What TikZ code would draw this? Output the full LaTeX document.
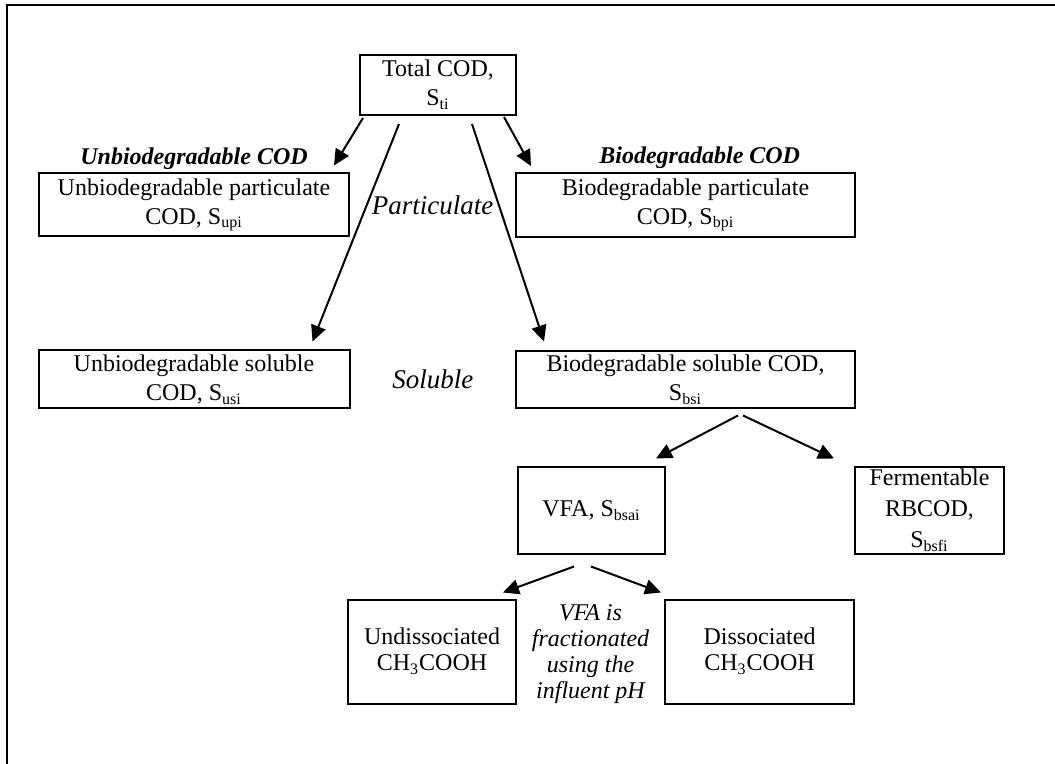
\documentclass[tikz,border=0pt,12pt]{standalone}
\usepackage{fontspec}
\setmainfont{Liberation Serif}
\usepackage{tikz}
\usetikzlibrary{arrows.meta,positioning,calc}

\begin{document}
\begin{tikzpicture}[
    >={Triangle[length=8pt,width=7.5pt]},
    node distance=60pt,
    font=\fontsize{12}{14.5}\selectfont,
    frac/.style={
		rectangle,
		draw=black,
		line width=1pt,
		align=center,
		inner sep=0pt
	},
	group/.style={
		font=\fontsize{12}{14.5}\selectfont\bfseries\itshape,
		inner sep=0pt
	},
	phase/.style={
		font=\fontsize{13.5}{15}\selectfont\itshape,
		align=center,
		inner sep=0pt
	},
	link/.style={
		->,
		line width=1pt
	}
  ]

\useasboundingbox (0,0) rectangle (527.5pt,-382pt);

% outer frame
\draw [line width=1pt] (3.5pt,-382pt) -- (3.5pt,-2.5pt) -- (527.5pt,-2.5pt);

% // total
\node [frac, minimum width=78pt, minimum height=30pt] (total) at (219pt,-42.5pt)
 {Total COD,\\ S\textsubscript{ti}};

% // particulate
\node [frac, below of=total, xshift=-122pt,
minimum width=155pt, minimum height=31.5pt] (upart)
 {Unbiodegradable particulate\\ COD, S\textsubscript{upi}};
\node [frac, below of=total, xshift=123.75pt,
minimum width=169.5pt, minimum height=32pt] (bpart)
 {Biodegradable particulate\\ COD, S\textsubscript{bpi}};

\node [group, anchor=base west] (ucod) at ([xshift=21pt,yshift=4pt]upart.north west) {Unbiodegradable COD};
\node [group, anchor=base west] (bcod) at ([xshift=42pt,yshift=4pt]bpart.north west) {Biodegradable COD};

% // soluble
\node [frac, below of=upart, yshift=-27.25pt,
minimum width=155.5pt, minimum height=29pt] (usol)
 {Unbiodegradable soluble\\ COD, S\textsubscript{usi}};
\node [frac, below of=bpart, yshift=-27.5pt,
minimum width=169.5pt, minimum height=28.5pt] (bsol)
 {Biodegradable soluble COD,\\ S\textsubscript{bsi}};

\node [phase] (part) at ($(upart.east)!0.5!(bpart.west)$) {Particulate};
\node [phase] (sol) at ($(usol.east)!0.5!(bsol.west)$) {Soluble};

% // readily biodegradable
\node [frac, below of=bsol, xshift=-47pt, yshift=-5.25pt,
minimum width=73.5pt, minimum height=43pt] (vfa)
 {VFA, S\textsubscript{bsai}};
\node [frac, below of=bsol, xshift=122pt, yshift=-5.25pt,
minimum width=74.5pt, minimum height=43pt, font=\fontsize{12}{15.5}\selectfont] (ferm)
 {Fermentable\\ RBCOD,\\ S\textsubscript{bsfi}};

% // vfa split
\node [frac, below of=vfa, xshift=-79.75pt, yshift=-10.5pt,
minimum width=84pt, minimum height=52pt, font=\fontsize{12}{13}\selectfont] (undis)
 {Undissociated\\ CH\textsubscript{3}COOH};
\node [frac, below of=vfa, xshift=84pt, yshift=-10.5pt,
minimum width=94.5pt, minimum height=52pt, font=\fontsize{12}{13}\selectfont] (dis)
 {Dissociated\\ CH\textsubscript{3}COOH};

\node [phase, font=\fontsize{12}{13}\selectfont\itshape] (note) at ([yshift=-1.5pt]$(undis.east)!0.5!(dis.west)$)
 {VFA is\\ fractionated\\ using the\\ influent pH};

% arrows
\draw [link] ([xshift=2pt,yshift=-1pt]total.south west) -- ([xshift=-8pt,yshift=3.5pt]upart.north east);
\draw [link] ([xshift=-19.5pt,yshift=-4pt]total.south) -- ([xshift=-19pt,yshift=4pt]usol.north east);
\draw [link] ([xshift=17pt,yshift=-4pt]total.south) -- ([xshift=14.5pt,yshift=4.5pt]bsol.north west);
\draw [link] ([xshift=-6.5pt,yshift=-0.5pt]total.south east) -- ([xshift=8pt,yshift=3pt]bpart.north west);

\draw [link] ([xshift=26.25pt,yshift=-3pt]bsol.south) -- ([xshift=-5pt,yshift=4pt]vfa.north east);
\draw [link] ([xshift=28.75pt,yshift=-3pt]bsol.south) -- ([xshift=-10pt,yshift=4pt]ferm.north west);

\draw [link] ([xshift=-46pt,yshift=-6pt]vfa.south east) -- ([xshift=-7pt,yshift=3pt]undis.north east);
\draw [link] ([xshift=-37.5pt,yshift=-6pt]vfa.south east) -- ([xshift=-1.5pt,yshift=3pt]dis.north west);

\end{tikzpicture}
\end{document}
